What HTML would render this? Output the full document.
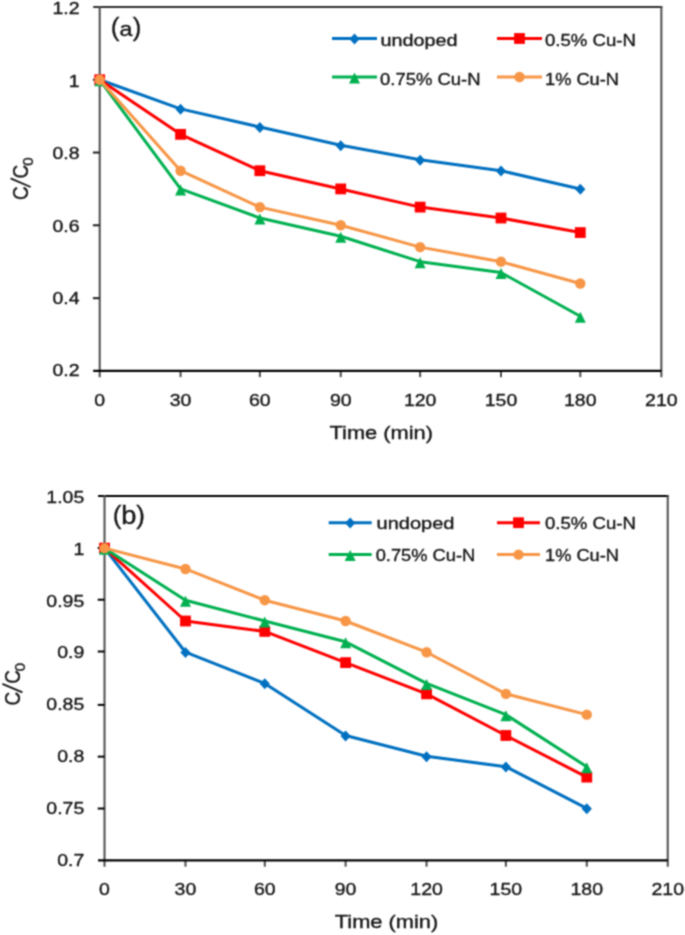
<!DOCTYPE html>
<html><head><meta charset="utf-8"><style>
html,body{margin:0;padding:0;background:#fff;}
body{width:685px;height:935px;overflow:hidden;}
svg{display:block;}
text{font-family:"Liberation Sans", sans-serif;fill:#161616;stroke:#161616;stroke-width:0.35px;}
</style></head><body>
<svg width="685" height="935" viewBox="0 0 685 935">
<defs><filter id="bl" color-interpolation-filters="sRGB" x="0" y="0" width="685" height="935" filterUnits="userSpaceOnUse"><feConvolveMatrix order="3" kernelMatrix="0.05090 0.12381 0.05090 0.12381 0.30116 0.12381 0.05090 0.12381 0.05090" edgeMode="duplicate"/></filter></defs>
<g filter="url(#bl)"><rect width="685" height="935" fill="#fff"/>
<line x1="93.2" y1="7.0" x2="662.36" y2="7.0" stroke="#303030" stroke-width="2"/>
<line x1="661.36" y1="6.0" x2="661.36" y2="377.13" stroke="#4c4c4c" stroke-width="2"/>
<line x1="99.7" y1="6.0" x2="99.7" y2="377.13" stroke="#4c4c4c" stroke-width="2"/>
<line x1="92.9" y1="298.18" x2="99.7" y2="298.18" stroke="#1e1e1e" stroke-width="2"/>
<line x1="92.9" y1="225.29" x2="99.7" y2="225.29" stroke="#1e1e1e" stroke-width="2"/>
<line x1="92.9" y1="152.53" x2="99.7" y2="152.53" stroke="#1e1e1e" stroke-width="2"/>
<line x1="92.9" y1="79.70" x2="99.7" y2="79.70" stroke="#1e1e1e" stroke-width="2"/>
<line x1="180.57" y1="370.83" x2="180.57" y2="377.13" stroke="#4c4c4c" stroke-width="2"/>
<line x1="259.87" y1="370.83" x2="259.87" y2="377.13" stroke="#4c4c4c" stroke-width="2"/>
<line x1="340.74" y1="370.83" x2="340.74" y2="377.13" stroke="#4c4c4c" stroke-width="2"/>
<line x1="420.13" y1="370.83" x2="420.13" y2="377.13" stroke="#4c4c4c" stroke-width="2"/>
<line x1="501.00" y1="370.83" x2="501.00" y2="377.13" stroke="#4c4c4c" stroke-width="2"/>
<line x1="580.30" y1="370.83" x2="580.30" y2="377.13" stroke="#4c4c4c" stroke-width="2"/>
<line x1="93.2" y1="370.83" x2="661.36" y2="370.83" stroke="#000000" stroke-width="2.1"/>
<polyline points="99.70,79.77 180.57,108.87 259.87,127.06 340.74,145.26 420.13,159.81 501.00,170.72 580.30,188.92" fill="none" stroke="#0070C0" stroke-width="3.0" stroke-linejoin="round"/>
<path d="M99.70 74.67L104.80 80.17L99.70 85.67L94.60 80.17Z" fill="#0070C0"/>
<path d="M180.57 103.77L185.67 109.27L180.57 114.77L175.47 109.27Z" fill="#0070C0"/>
<path d="M259.87 121.96L264.97 127.46L259.87 132.96L254.77 127.46Z" fill="#0070C0"/>
<path d="M340.74 140.16L345.84 145.66L340.74 151.16L335.64 145.66Z" fill="#0070C0"/>
<path d="M420.13 154.71L425.23 160.21L420.13 165.71L415.03 160.21Z" fill="#0070C0"/>
<path d="M501.00 165.62L506.10 171.12L501.00 176.62L495.90 171.12Z" fill="#0070C0"/>
<path d="M580.30 183.82L585.40 189.32L580.30 194.82L575.20 189.32Z" fill="#0070C0"/>
<polyline points="99.70,79.77 180.57,134.34 259.87,170.72 340.74,188.92 420.13,207.11 501.00,218.02 580.30,232.57" fill="none" stroke="#FF0000" stroke-width="3.0" stroke-linejoin="round"/>
<rect x="94.30" y="74.37" width="10.80" height="10.80" fill="#FF0000"/>
<rect x="175.17" y="128.94" width="10.80" height="10.80" fill="#FF0000"/>
<rect x="254.47" y="165.32" width="10.80" height="10.80" fill="#FF0000"/>
<rect x="335.34" y="183.52" width="10.80" height="10.80" fill="#FF0000"/>
<rect x="414.73" y="201.71" width="10.80" height="10.80" fill="#FF0000"/>
<rect x="495.60" y="212.62" width="10.80" height="10.80" fill="#FF0000"/>
<rect x="574.90" y="227.17" width="10.80" height="10.80" fill="#FF0000"/>
<polyline points="99.70,79.77 180.57,188.92 259.87,218.02 340.74,236.21 420.13,261.68 501.00,272.60 580.30,316.26" fill="none" stroke="#00B050" stroke-width="3.0" stroke-linejoin="round"/>
<path d="M99.70 75.27L105.20 86.27L94.20 86.27Z" fill="#00B050"/>
<path d="M180.57 184.42L186.07 195.42L175.07 195.42Z" fill="#00B050"/>
<path d="M259.87 213.52L265.37 224.52L254.37 224.52Z" fill="#00B050"/>
<path d="M340.74 231.71L346.24 242.71L335.24 242.71Z" fill="#00B050"/>
<path d="M420.13 257.18L425.63 268.18L414.63 268.18Z" fill="#00B050"/>
<path d="M501.00 268.10L506.50 279.10L495.50 279.10Z" fill="#00B050"/>
<path d="M580.30 311.76L585.80 322.76L574.80 322.76Z" fill="#00B050"/>
<polyline points="99.70,79.77 180.57,170.72 259.87,207.11 340.74,225.30 420.13,247.13 501.00,261.68 580.30,283.51" fill="none" stroke="#F79646" stroke-width="3.0" stroke-linejoin="round"/>
<circle cx="99.70" cy="79.77" r="5.2" fill="#F79646"/>
<circle cx="180.57" cy="170.72" r="5.2" fill="#F79646"/>
<circle cx="259.87" cy="207.11" r="5.2" fill="#F79646"/>
<circle cx="340.74" cy="225.30" r="5.2" fill="#F79646"/>
<circle cx="420.13" cy="247.13" r="5.2" fill="#F79646"/>
<circle cx="501.00" cy="261.68" r="5.2" fill="#F79646"/>
<circle cx="580.30" cy="283.51" r="5.2" fill="#F79646"/>
<text x="79.50" y="376.33" font-size="16.8" text-anchor="end" textLength="27.09" lengthAdjust="spacingAndGlyphs">0.2</text>
<text x="79.50" y="303.78" font-size="16.8" text-anchor="end" textLength="27.09" lengthAdjust="spacingAndGlyphs">0.4</text>
<text x="79.50" y="232.19" font-size="16.8" text-anchor="end" textLength="27.09" lengthAdjust="spacingAndGlyphs">0.6</text>
<text x="79.50" y="159.43" font-size="16.8" text-anchor="end" textLength="27.09" lengthAdjust="spacingAndGlyphs">0.8</text>
<text x="79.50" y="86.60" font-size="16.8" text-anchor="end" textLength="10.84" lengthAdjust="spacingAndGlyphs">1</text>
<text x="79.50" y="13.90" font-size="16.8" text-anchor="end" textLength="27.09" lengthAdjust="spacingAndGlyphs">1.2</text>
<text x="99.70" y="405.70" font-size="16.8" text-anchor="middle" textLength="10.84" lengthAdjust="spacingAndGlyphs">0</text>
<text x="180.57" y="405.70" font-size="16.8" text-anchor="middle" textLength="21.68" lengthAdjust="spacingAndGlyphs">30</text>
<text x="259.87" y="405.70" font-size="16.8" text-anchor="middle" textLength="21.68" lengthAdjust="spacingAndGlyphs">60</text>
<text x="340.74" y="405.70" font-size="16.8" text-anchor="middle" textLength="21.68" lengthAdjust="spacingAndGlyphs">90</text>
<text x="420.13" y="405.70" font-size="16.8" text-anchor="middle" textLength="32.51" lengthAdjust="spacingAndGlyphs">120</text>
<text x="501.00" y="405.70" font-size="16.8" text-anchor="middle" textLength="32.51" lengthAdjust="spacingAndGlyphs">150</text>
<text x="580.30" y="405.70" font-size="16.8" text-anchor="middle" textLength="32.51" lengthAdjust="spacingAndGlyphs">180</text>
<text x="661.36" y="405.70" font-size="16.8" text-anchor="middle" textLength="32.51" lengthAdjust="spacingAndGlyphs">210</text>
<text x="329.50" y="439.20" font-size="18.5" textLength="103.5" lengthAdjust="spacingAndGlyphs">Time (min)</text>
<g transform="translate(28.4,200) rotate(-90)"><text transform="translate(0,0) scale(0.86,1)" x="0" y="0" font-size="22">C</text><line x1="13.0" y1="2.2" x2="21.6" y2="-17.8" stroke="#161616" stroke-width="1.9" stroke-linecap="butt"/><text transform="translate(21.6,0) scale(0.86,1)" x="0" y="0" font-size="22">C</text><text x="34.2" y="4.8" font-size="15">0</text></g>
<text x="110.80" y="36.30" font-size="26">(</text>
<text transform="translate(119.4,36.3) scale(1.12,1)" x="0" y="0" font-size="20.8">a</text>
<text x="132.70" y="36.30" font-size="26">)</text>
<line x1="332" y1="38.5" x2="377" y2="38.5" stroke="#0070C0" stroke-width="3.0"/>
<path d="M354.50 33.40L359.60 38.90L354.50 44.40L349.40 38.90Z" fill="#0070C0"/>
<text x="380.50" y="46.20" font-size="17.3" textLength="77" lengthAdjust="spacingAndGlyphs">undoped</text>
<line x1="497" y1="38.5" x2="542" y2="38.5" stroke="#FF0000" stroke-width="3.0"/>
<rect x="514.10" y="33.10" width="10.80" height="10.80" fill="#FF0000"/>
<text x="545.00" y="46.20" font-size="17.3" textLength="91" lengthAdjust="spacingAndGlyphs">0.5% Cu-N</text>
<line x1="332" y1="77" x2="377" y2="77" stroke="#00B050" stroke-width="3.0"/>
<path d="M354.50 72.50L360.00 83.50L349.00 83.50Z" fill="#00B050"/>
<text x="380.00" y="84.70" font-size="17.3" textLength="100.5" lengthAdjust="spacingAndGlyphs">0.75% Cu-N</text>
<line x1="497" y1="77" x2="542" y2="77" stroke="#F79646" stroke-width="3.0"/>
<circle cx="519.50" cy="77.00" r="5.2" fill="#F79646"/>
<text x="545.00" y="84.70" font-size="17.3" textLength="74" lengthAdjust="spacingAndGlyphs">1% Cu-N</text>
<line x1="98.02" y1="496.1" x2="668.74" y2="496.1" stroke="#000000" stroke-width="2"/>
<line x1="667.74" y1="495.1" x2="667.74" y2="866.6899999999999" stroke="#4c4c4c" stroke-width="2"/>
<line x1="104.52" y1="495.1" x2="104.52" y2="866.6899999999999" stroke="#4c4c4c" stroke-width="2"/>
<line x1="97.72" y1="808.53" x2="104.52" y2="808.53" stroke="#000000" stroke-width="2"/>
<line x1="97.72" y1="756.64" x2="104.52" y2="756.64" stroke="#000000" stroke-width="2"/>
<line x1="97.72" y1="704.88" x2="104.52" y2="704.88" stroke="#000000" stroke-width="2"/>
<line x1="97.72" y1="651.52" x2="104.52" y2="651.52" stroke="#000000" stroke-width="2"/>
<line x1="97.72" y1="599.71" x2="104.52" y2="599.71" stroke="#000000" stroke-width="2"/>
<line x1="97.72" y1="548.00" x2="104.52" y2="548.00" stroke="#000000" stroke-width="2"/>
<line x1="185.48" y1="860.39" x2="185.48" y2="866.6899999999999" stroke="#4c4c4c" stroke-width="2"/>
<line x1="264.78" y1="860.39" x2="264.78" y2="866.6899999999999" stroke="#4c4c4c" stroke-width="2"/>
<line x1="345.60" y1="860.39" x2="345.60" y2="866.6899999999999" stroke="#4c4c4c" stroke-width="2"/>
<line x1="426.57" y1="860.39" x2="426.57" y2="866.6899999999999" stroke="#4c4c4c" stroke-width="2"/>
<line x1="505.87" y1="860.39" x2="505.87" y2="866.6899999999999" stroke="#4c4c4c" stroke-width="2"/>
<line x1="586.78" y1="860.39" x2="586.78" y2="866.6899999999999" stroke="#4c4c4c" stroke-width="2"/>
<line x1="98.02" y1="860.39" x2="667.74" y2="860.39" stroke="#000000" stroke-width="2.1"/>
<polyline points="104.52,548.14 185.48,652.22 264.78,683.45 345.60,735.49 426.57,756.31 505.87,766.72 586.78,808.35" fill="none" stroke="#0070C0" stroke-width="3.0" stroke-linejoin="round"/>
<path d="M104.52 543.04L109.62 548.54L104.52 554.04L99.42 548.54Z" fill="#0070C0"/>
<path d="M185.48 647.12L190.58 652.62L185.48 658.12L180.38 652.62Z" fill="#0070C0"/>
<path d="M264.78 678.35L269.88 683.85L264.78 689.35L259.68 683.85Z" fill="#0070C0"/>
<path d="M345.60 730.39L350.70 735.89L345.60 741.39L340.50 735.89Z" fill="#0070C0"/>
<path d="M426.57 751.21L431.67 756.71L426.57 762.21L421.47 756.71Z" fill="#0070C0"/>
<path d="M505.87 761.62L510.97 767.12L505.87 772.62L500.77 767.12Z" fill="#0070C0"/>
<path d="M586.78 803.25L591.88 808.75L586.78 814.25L581.68 808.75Z" fill="#0070C0"/>
<polyline points="104.52,548.14 185.48,621.00 264.78,631.41 345.60,662.63 426.57,693.86 505.87,735.49 586.78,777.12" fill="none" stroke="#FF0000" stroke-width="3.0" stroke-linejoin="round"/>
<rect x="99.12" y="542.74" width="10.80" height="10.80" fill="#FF0000"/>
<rect x="180.08" y="615.60" width="10.80" height="10.80" fill="#FF0000"/>
<rect x="259.38" y="626.01" width="10.80" height="10.80" fill="#FF0000"/>
<rect x="340.20" y="657.23" width="10.80" height="10.80" fill="#FF0000"/>
<rect x="421.17" y="688.46" width="10.80" height="10.80" fill="#FF0000"/>
<rect x="500.47" y="730.09" width="10.80" height="10.80" fill="#FF0000"/>
<rect x="581.38" y="771.72" width="10.80" height="10.80" fill="#FF0000"/>
<polyline points="104.52,548.14 185.48,600.18 264.78,621.00 345.60,641.82 426.57,683.45 505.87,714.67 586.78,766.72" fill="none" stroke="#00B050" stroke-width="3.0" stroke-linejoin="round"/>
<path d="M104.52 543.64L110.02 554.64L99.02 554.64Z" fill="#00B050"/>
<path d="M185.48 595.68L190.98 606.68L179.98 606.68Z" fill="#00B050"/>
<path d="M264.78 616.50L270.28 627.50L259.28 627.50Z" fill="#00B050"/>
<path d="M345.60 637.32L351.10 648.32L340.10 648.32Z" fill="#00B050"/>
<path d="M426.57 678.95L432.07 689.95L421.07 689.95Z" fill="#00B050"/>
<path d="M505.87 710.17L511.37 721.17L500.37 721.17Z" fill="#00B050"/>
<path d="M586.78 762.22L592.28 773.22L581.28 773.22Z" fill="#00B050"/>
<polyline points="104.52,548.14 185.48,568.96 264.78,600.18 345.60,621.00 426.57,652.22 505.87,693.86 586.78,714.67" fill="none" stroke="#F79646" stroke-width="3.0" stroke-linejoin="round"/>
<circle cx="104.52" cy="548.14" r="5.2" fill="#F79646"/>
<circle cx="185.48" cy="568.96" r="5.2" fill="#F79646"/>
<circle cx="264.78" cy="600.18" r="5.2" fill="#F79646"/>
<circle cx="345.60" cy="621.00" r="5.2" fill="#F79646"/>
<circle cx="426.57" cy="652.22" r="5.2" fill="#F79646"/>
<circle cx="505.87" cy="693.86" r="5.2" fill="#F79646"/>
<circle cx="586.78" cy="714.67" r="5.2" fill="#F79646"/>
<text x="84.30" y="865.99" font-size="16.8" text-anchor="end" textLength="27.09" lengthAdjust="spacingAndGlyphs">0.7</text>
<text x="84.30" y="814.13" font-size="16.8" text-anchor="end" textLength="37.93" lengthAdjust="spacingAndGlyphs">0.75</text>
<text x="84.30" y="762.24" font-size="16.8" text-anchor="end" textLength="27.09" lengthAdjust="spacingAndGlyphs">0.8</text>
<text x="84.30" y="710.48" font-size="16.8" text-anchor="end" textLength="37.93" lengthAdjust="spacingAndGlyphs">0.85</text>
<text x="84.30" y="658.42" font-size="16.8" text-anchor="end" textLength="27.09" lengthAdjust="spacingAndGlyphs">0.9</text>
<text x="84.30" y="606.61" font-size="16.8" text-anchor="end" textLength="37.93" lengthAdjust="spacingAndGlyphs">0.95</text>
<text x="84.30" y="554.90" font-size="16.8" text-anchor="end" textLength="10.84" lengthAdjust="spacingAndGlyphs">1</text>
<text x="84.30" y="503.00" font-size="16.8" text-anchor="end" textLength="37.93" lengthAdjust="spacingAndGlyphs">1.05</text>
<text x="104.52" y="894.70" font-size="16.8" text-anchor="middle" textLength="10.84" lengthAdjust="spacingAndGlyphs">0</text>
<text x="185.48" y="894.70" font-size="16.8" text-anchor="middle" textLength="21.68" lengthAdjust="spacingAndGlyphs">30</text>
<text x="264.78" y="894.70" font-size="16.8" text-anchor="middle" textLength="21.68" lengthAdjust="spacingAndGlyphs">60</text>
<text x="345.60" y="894.70" font-size="16.8" text-anchor="middle" textLength="21.68" lengthAdjust="spacingAndGlyphs">90</text>
<text x="426.57" y="894.70" font-size="16.8" text-anchor="middle" textLength="32.51" lengthAdjust="spacingAndGlyphs">120</text>
<text x="505.87" y="894.70" font-size="16.8" text-anchor="middle" textLength="32.51" lengthAdjust="spacingAndGlyphs">150</text>
<text x="586.78" y="894.70" font-size="16.8" text-anchor="middle" textLength="32.51" lengthAdjust="spacingAndGlyphs">180</text>
<text x="667.74" y="894.70" font-size="16.8" text-anchor="middle" textLength="32.51" lengthAdjust="spacingAndGlyphs">210</text>
<text x="334.80" y="928.20" font-size="18.5" textLength="103.5" lengthAdjust="spacingAndGlyphs">Time (min)</text>
<g transform="translate(20.2,705.4) rotate(-90)"><text transform="translate(0,0) scale(0.86,1)" x="0" y="0" font-size="22">C</text><line x1="13.0" y1="2.2" x2="21.6" y2="-17.8" stroke="#161616" stroke-width="1.9" stroke-linecap="butt"/><text transform="translate(21.6,0) scale(0.86,1)" x="0" y="0" font-size="22">C</text><text x="34.2" y="4.8" font-size="15">0</text></g>
<text x="112.80" y="524.10" font-size="26">(</text>
<text transform="translate(121.3,524.1) scale(1.03,1)" x="0" y="0" font-size="26.5">b</text>
<text x="136.20" y="524.10" font-size="26">)</text>
<line x1="328.7" y1="522.7" x2="371.7" y2="522.7" stroke="#0070C0" stroke-width="3.0"/>
<path d="M350.20 517.60L355.30 523.10L350.20 528.60L345.10 523.10Z" fill="#0070C0"/>
<text x="376.50" y="529.10" font-size="17.3" textLength="78" lengthAdjust="spacingAndGlyphs">undoped</text>
<line x1="497" y1="522.7" x2="540" y2="522.7" stroke="#FF0000" stroke-width="3.0"/>
<rect x="513.10" y="517.30" width="10.80" height="10.80" fill="#FF0000"/>
<text x="545.00" y="529.10" font-size="17.3" textLength="91" lengthAdjust="spacingAndGlyphs">0.5% Cu-N</text>
<line x1="328.7" y1="554.6" x2="371.7" y2="554.6" stroke="#00B050" stroke-width="3.0"/>
<path d="M350.20 550.10L355.70 561.10L344.70 561.10Z" fill="#00B050"/>
<text x="375.70" y="561.00" font-size="17.3" textLength="99.5" lengthAdjust="spacingAndGlyphs">0.75% Cu-N</text>
<line x1="497" y1="554.6" x2="540" y2="554.6" stroke="#F79646" stroke-width="3.0"/>
<circle cx="518.50" cy="554.60" r="5.2" fill="#F79646"/>
<text x="545.00" y="561.00" font-size="17.3" textLength="74" lengthAdjust="spacingAndGlyphs">1% Cu-N</text>
</g>
</svg>
</body></html>
